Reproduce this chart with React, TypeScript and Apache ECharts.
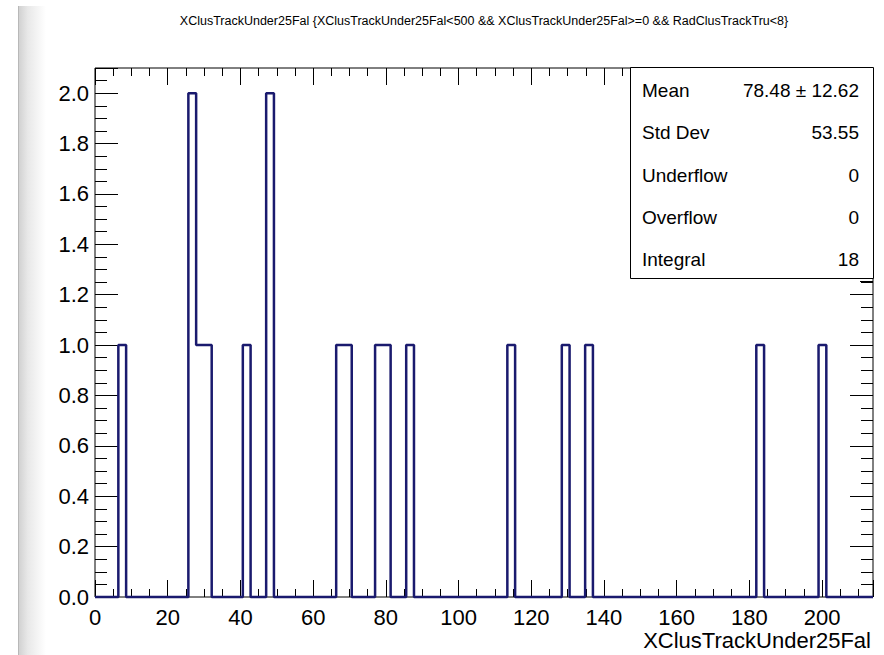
import React, { useEffect, useRef } from 'react';
import * as echarts from 'echarts';

const TITLE =
  'XClusTrackUnder25Fal {XClusTrackUnder25Fal<500 && XClusTrackUnder25Fal>=0 && RadClusTrackTru<8}';
const X_TITLE = 'XClusTrackUnder25Fal';

// Histogram binning: 100 bins from 0 to 214
const X_MIN = 0;
const X_MAX = 214;
const N_BINS = 100;
const binCounts = [
  0, 0, 0, 1, 0, 0, 0, 0, 0, 0,
  0, 0, 2, 1, 1, 0, 0, 0, 0, 1,
  0, 0, 2, 0, 0, 0, 0, 0, 0, 0,
  0, 1, 1, 0, 0, 0, 1, 1, 0, 0,
  1, 0, 0, 0, 0, 0, 0, 0, 0, 0,
  0, 0, 0, 1, 0, 0, 0, 0, 0, 0,
  1, 0, 0, 1, 0, 0, 0, 0, 0, 0,
  0, 0, 0, 0, 0, 0, 0, 0, 0, 0,
  0, 0, 0, 0, 0, 1, 0, 0, 0, 0,
  0, 0, 0, 1, 0, 0, 0, 0, 0, 0,
];

const Y_MIN = 0;
const Y_MAX = 2.1;
const Y_INTERVAL = 0.2;
const X_INTERVAL = 20;

const statLabels = ['Mean', 'Std Dev', 'Underflow', 'Overflow', 'Integral'];
const statValues = ['78.48 \u00b1 12.62', '53.55', '0', '0', '18'];

const FONT = "'Liberation Sans', Arial, Helvetica, sans-serif";
const LINE_COLOR = '#1a1a6e';

export default function App() {
  const ref = useRef<HTMLDivElement>(null);

  useEffect(() => {
    if (!ref.current) return;
    const chart = echarts.init(ref.current, undefined, { renderer: 'svg' });

    const binWidth = (X_MAX - X_MIN) / N_BINS;
    const stepData: [number, number][] = binCounts.map((c, i) => [X_MIN + i * binWidth, c]);
    stepData.push([X_MAX, binCounts[binCounts.length - 1]]);

    const gridLeft = 95;
    const gridTop = 68;
    const gridRight = 873;
    const gridBottom = 597;

    const boxLeft = 630;
    const boxTop = 67;
    const boxRight = 873;
    const boxBottom = 278;
    const rowY = [90, 132.5, 175, 217.5, 259];

    const statGraphics: any[] = [];
    statLabels.forEach((lab, i) => {
      statGraphics.push({
        type: 'text',
        x: boxLeft + 12,
        y: rowY[i],
        style: {
          text: lab,
          font: `19px ${FONT}`,
          fill: '#000',
          textAlign: 'left',
          textVerticalAlign: 'middle',
        },
      });
      statGraphics.push({
        type: 'text',
        x: boxRight - 14,
        y: rowY[i],
        style: {
          text: statValues[i],
          font: `19px ${FONT}`,
          fill: '#000',
          textAlign: 'right',
          textVerticalAlign: 'middle',
        },
      });
    });

    const commonX = {
      type: 'value' as const,
      min: X_MIN,
      max: X_MAX,
      interval: X_INTERVAL,
      splitLine: { show: false },
      axisLine: { show: false, onZero: false },
      axisTick: { show: true, inside: true, length: 17, lineStyle: { color: '#000', width: 1 } },
      minorTick: { show: true, splitNumber: 4, length: 8, lineStyle: { color: '#000', width: 1 } },
    };
    const commonY = {
      type: 'value' as const,
      min: Y_MIN,
      max: Y_MAX,
      interval: Y_INTERVAL,
      splitLine: { show: false },
      axisLine: { show: false, onZero: false },
      axisTick: { show: true, inside: true, length: 23, lineStyle: { color: '#000', width: 1 } },
      minorTick: { show: true, splitNumber: 4, length: 12, lineStyle: { color: '#000', width: 1 } },
    };

    chart.setOption({
      animation: false,
      backgroundColor: '#fff',
      grid: {
        left: gridLeft,
        top: gridTop,
        right: 884 - gridRight,
        bottom: 655 - gridBottom,
        show: true,
        borderColor: '#000',
        borderWidth: 1,
        backgroundColor: 'transparent',
      },
      xAxis: [
        {
          ...commonX,
          position: 'bottom',
          axisLabel: {
            show: true,
            fontSize: 22,
            lineHeight: 20,
            fontFamily: FONT,
            color: '#000',
            margin: 10,
            showMaxLabel: false,
          },
        },
        {
          ...commonX,
          position: 'top',
          axisLabel: { show: false },
        },
      ],
      yAxis: [
        {
          ...commonY,
          position: 'left',
          axisLabel: {
            show: true,
            fontSize: 22,
            fontFamily: FONT,
            color: '#000',
            margin: 6,
            showMaxLabel: false,
            formatter: (v: number) => v.toFixed(1),
          },
        },
        {
          ...commonY,
          position: 'right',
          axisLabel: { show: false },
        },
      ],
      series: [
        {
          type: 'line',
          xAxisIndex: 0,
          yAxisIndex: 0,
          step: 'end',
          data: stepData,
          symbol: 'none',
          lineStyle: { color: LINE_COLOR, width: 2.5 },
          clip: false,
          z: 3,
        },
      ],
      graphic: [
        {
          type: 'rect',
          shape: { x: 18, y: 6, width: 28, height: 649 },
          style: {
            fill: new echarts.graphic.LinearGradient(0, 0, 1, 0, [
              { offset: 0, color: '#cfcfcf' },
              { offset: 0.35, color: '#e8e8e8' },
              { offset: 1, color: '#ffffff' },
            ]),
          },
          silent: true,
          z: -10,
        },
        {
          type: 'line',
          shape: { x1: 18.5, y1: 6, x2: 18.5, y2: 655 },
          style: { stroke: '#b8b8b8', lineWidth: 1 },
          silent: true,
          z: -9,
        },
        {
          type: 'text',
          x: 484,
          y: 21,
          style: {
            text: TITLE,
            font: `12.5px ${FONT}`,
            fill: '#000',
            textAlign: 'center',
            textVerticalAlign: 'middle',
          },
        },
        {
          type: 'text',
          x: 871,
          y: 640,
          style: {
            text: X_TITLE,
            font: `22px ${FONT}`,
            lineHeight: 20,
            fill: '#000',
            textAlign: 'right',
            textVerticalAlign: 'middle',
          },
        },
        {
          type: 'rect',
          shape: { x: boxLeft + 0.5, y: boxTop + 0.5, width: boxRight - boxLeft, height: boxBottom - boxTop },
          style: { fill: '#fff', stroke: '#000', lineWidth: 1 },
          z: 10,
        },
        {
          type: 'line',
          shape: { x1: 860, y1: 281.5, x2: 873, y2: 281.5 },
          style: { stroke: '#000', lineWidth: 1 },
          z: 10,
        },
        ...statGraphics.map((g) => ({ ...g, z: 11 })),
      ],
    });

    return () => chart.dispose();
  }, []);

  return (
    <div
      ref={ref}
      style={{ position: 'fixed', left: 0, top: 0, width: 884, height: 655, background: '#fff' }}
    />
  );
}
